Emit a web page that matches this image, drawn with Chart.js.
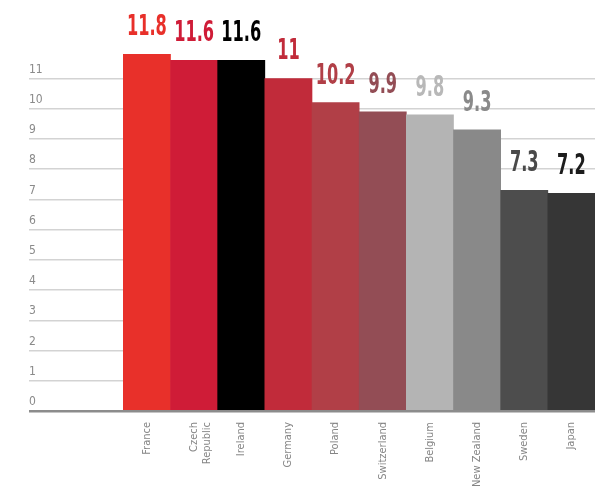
<!DOCTYPE html>
<html>
<head>
<meta charset="utf-8">
<script src="https://cdn.jsdelivr.net/npm/chart.js@4/dist/chart.umd.min.js"></script>
<style>
  html, body { margin: 0; padding: 0; background: #fff; }
  #wrap { width: 605px; height: 491px; position: relative; }
</style>
</head>
<body>
<div id="wrap"><canvas id="chart"></canvas></div>
<script>
const countries = ['France', ['Czech', 'Republic'], 'Ireland', 'Germany', 'Poland',
    'Switzerland', 'Belgium', 'New Zealand', 'Sweden', 'Japan'];
const values = [11.8, 11.6, 11.6, 11, 10.2, 9.9, 9.8, 9.3, 7.3, 7.2];
const barColors = ['#e8302a', '#cf1c37', '#000000', '#c12b3a', '#b13f47',
    '#934d55', '#b4b4b4', '#898989', '#4d4d4d', '#363636'];
const labelColors = ['#e8302a', '#cf1c37', '#000000', '#c12b3a', '#b13f47',
    '#934d55', '#b8b8b8', '#8a8a8a', '#4a4a4a', '#1c1c1c'];
const yTicks = [0, 1, 2, 3, 4, 5, 6, 7, 8, 9, 10, 11];

// two empty slots on the left leave room for the y tick labels
const pad = ['', ''];
const labels = pad.concat(countries);
const data = pad.map(() => null).concat(values);

// value printed above every bar, squeezed sideways
const valueLabels = {
    id: 'valueLabels',
    afterDatasetsDraw(chart) {
        const ctx = chart.ctx;
        const meta = chart.getDatasetMeta(0);
        ctx.save();
        ctx.font = 'bold 29px "DejaVu Sans Condensed", sans-serif';
        ctx.textAlign = 'center';
        ctx.textBaseline = 'alphabetic';
        meta.data.forEach((bar, i) => {
            const v = data[i];
            if (v === null) return;
            const c = i - pad.length;
            ctx.save();
            ctx.translate(bar.x, bar.y - 19);
            ctx.scale(0.62, 1);
            ctx.fillStyle = labelColors[c];
            ctx.fillText(String(v), 0, 0);
            ctx.restore();
        });
        ctx.restore();
    }
};

new Chart(document.getElementById('chart'), {
    type: 'bar',
    data: {
        labels: labels,
        datasets: [{
            data: data,
            backgroundColor: pad.map(() => 'transparent').concat(barColors),
            barPercentage: 1,
            categoryPercentage: 1,
            borderWidth: 0
        }]
    },
    options: {
        responsive: true,
        maintainAspectRatio: false,
        animation: false,
        layout: { padding: { left: 29, right: 10, top: 18, bottom: 0 } },
        plugins: { legend: { display: false }, tooltip: { enabled: false } },
        scales: {
            x: {
                grid: { display: false },
                border: { display: false },
                afterFit(scale) { scale.height = 80; },
                ticks: {
                    autoSkip: false,
                    minRotation: 90,
                    maxRotation: 90,
                    padding: 3,
                    color: '#858585',
                    font: { family: '"DejaVu Sans Condensed", sans-serif', size: 11 }
                }
            },
            y: {
                min: 0,
                max: 13,
                afterBuildTicks(scale) {
                    scale.ticks = yTicks.map(v => ({ value: v }));
                },
                border: { display: false },
                grid: {
                    drawTicks: false,
                    color: ctx => ctx.tick && ctx.tick.value === 0 ? '#8c8c8c' : '#d3d3d3',
                    lineWidth: ctx => ctx.tick && ctx.tick.value === 0 ? 2.5 : 1.5
                },
                ticks: {
                    mirror: true,
                    padding: 0,
                    labelOffset: -9,
                    color: '#8a8a8a',
                    font: { family: '"DejaVu Sans Condensed", sans-serif', size: 12 }
                }
            }
        }
    },
    plugins: [valueLabels]
});
</script>
</body>
</html>
